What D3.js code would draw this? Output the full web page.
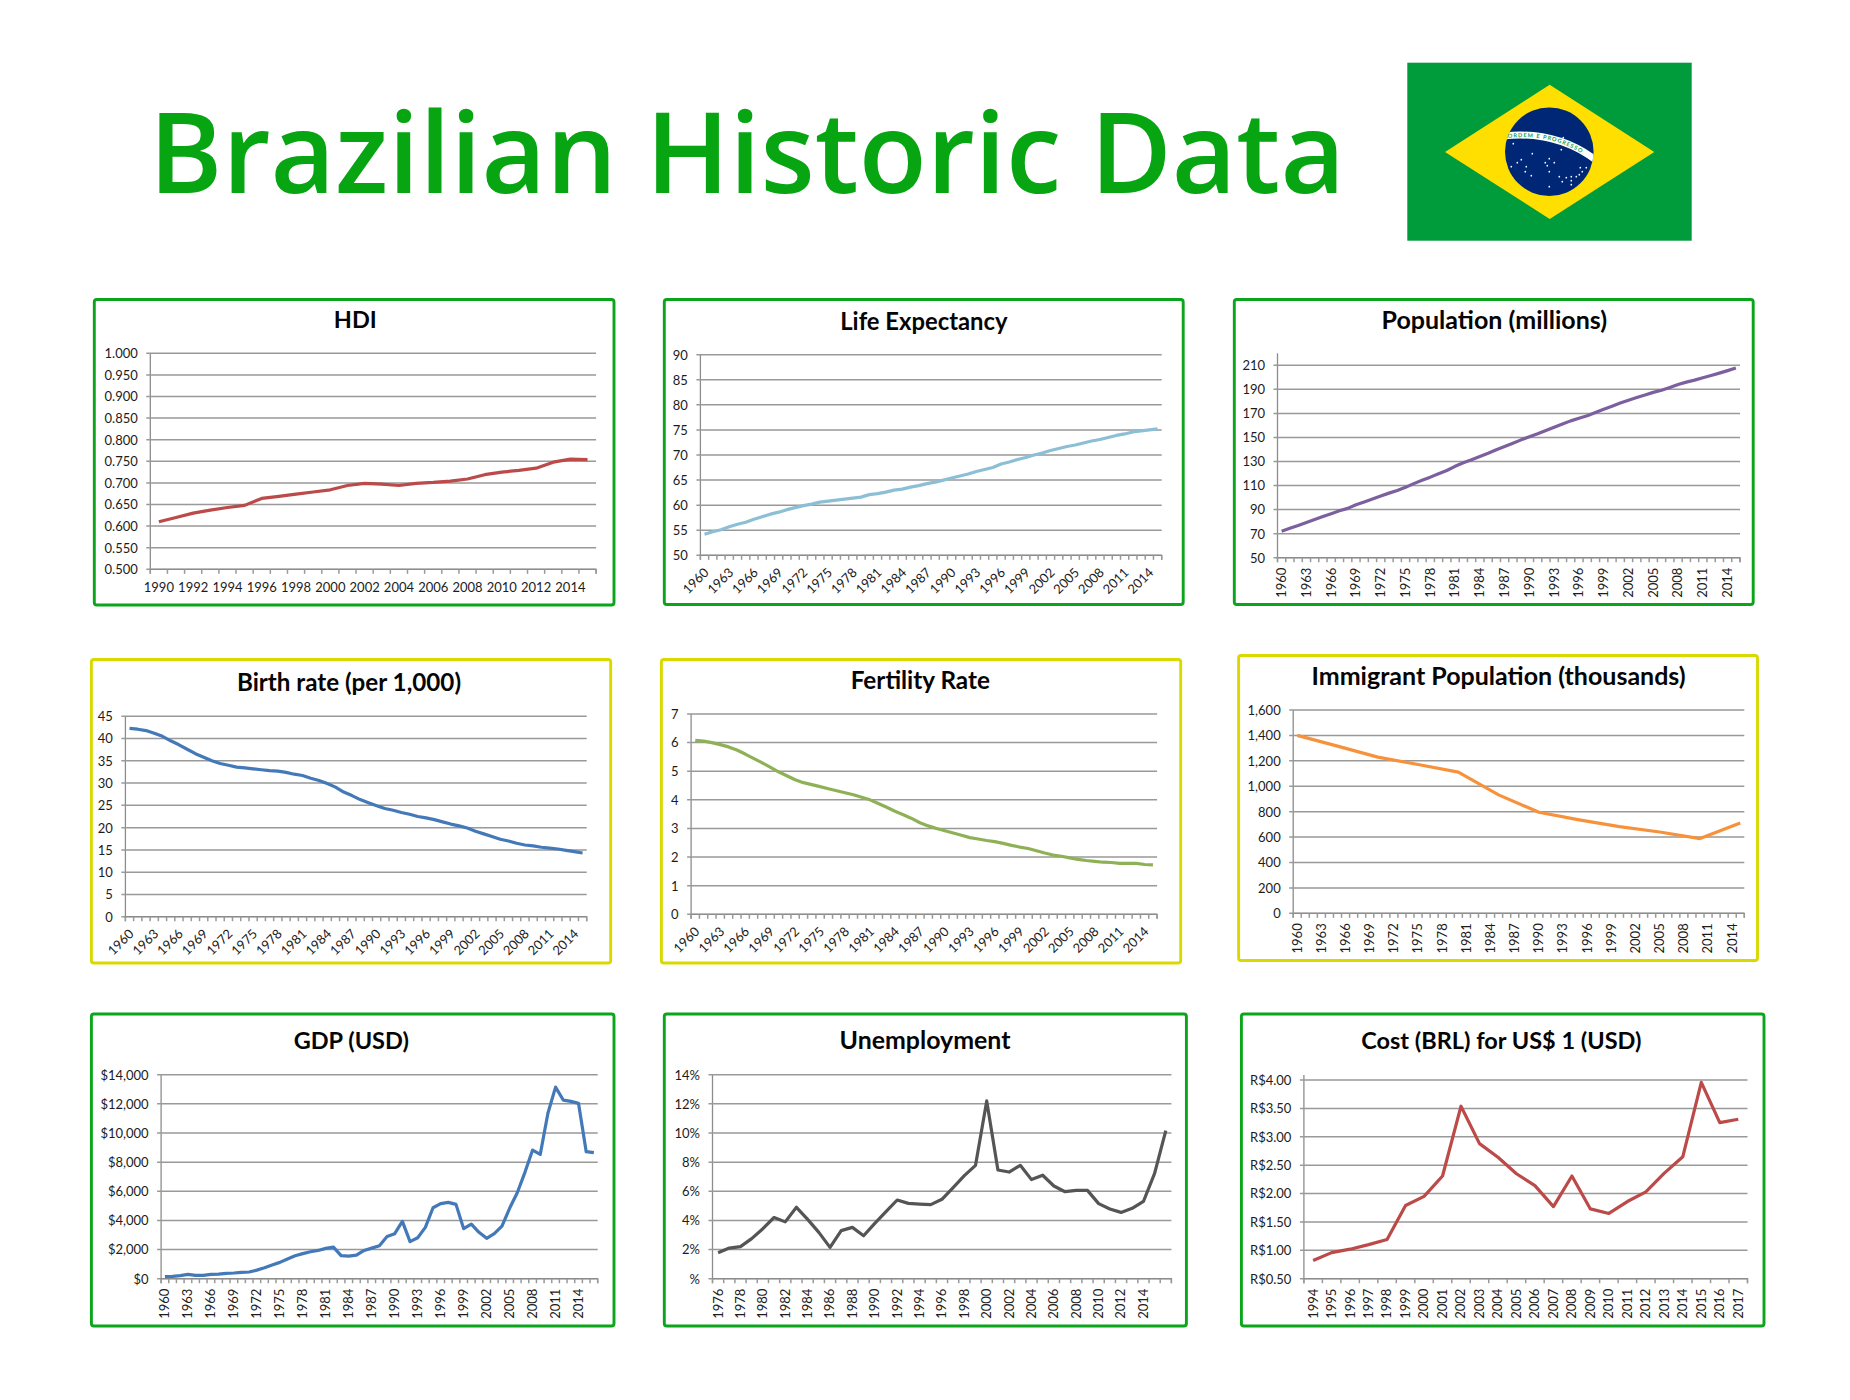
<!DOCTYPE html>
<html>
<head>
<meta charset="utf-8">
<title>Brazilian Historic Data</title>
<script src="https://cdnjs.cloudflare.com/ajax/libs/d3/7.8.5/d3.min.js"></script>
<style>
body { margin: 0; background: #fff; }
text { font-family: Lato, "Open Sans", sans-serif; }
.domain { stroke: #8c8c8c; stroke-width: 1.3; }
.tick line { stroke: #999; stroke-width: 1.5; }
.tick text { font-size: 13px; fill: #1c1c1c; }
.chart-title { font-weight: 700; fill: #050505; text-anchor: middle; }
</style>
</head>
<body>
<svg id="poster" width="1850" height="1400"></svg>
<script>
// ---- data ----
var hdiYears = d3.range(1990, 2016);
var hdiValues = [0.610, 0.620, 0.630, 0.637, 0.643, 0.648, 0.664, 0.669, 0.674, 0.679, 0.684, 0.694, 0.699,
    0.697, 0.694, 0.699, 0.701, 0.704, 0.709, 0.719, 0.725, 0.729, 0.734, 0.748, 0.755, 0.754];
var hdiTicks = [0.5, 0.55, 0.6, 0.65, 0.7, 0.75, 0.8, 0.85, 0.9, 0.95, 1];

var years60to15 = d3.range(1960, 2016);
var lifeValues = [54.2, 54.7, 55.1, 55.7, 56.2, 56.6, 57.2, 57.7, 58.2, 58.6, 59.1, 59.5, 59.9, 60.2, 60.6, 60.8,
    61.0, 61.2, 61.4, 61.6, 62.1, 62.3, 62.6, 63.0, 63.2, 63.6, 63.9, 64.3, 64.6, 65.0, 65.4, 65.8, 66.2, 66.7,
    67.1, 67.5, 68.2, 68.6, 69.1, 69.5, 70.0, 70.4, 70.9, 71.3, 71.7, 72.0, 72.4, 72.8, 73.1, 73.5, 73.9, 74.2,
    74.6, 74.8, 75.0, 75.2];
var lifeTicks = [50, 55, 60, 65, 70, 75, 80, 85, 90];

var populationValues = [72, 74.5, 76.8, 79.3, 81.7, 84.2, 86.6, 89, 91, 94, 96.4, 98.8, 101.3, 103.7, 105.9, 108.5,
    111.6, 114.4, 117, 119.8, 122.5, 126, 129, 131.5, 134.2, 136.8, 139.8, 142.5, 145.2, 148, 150.6, 153, 155.7,
    158.5, 161.2, 163.8, 166, 168, 170.8, 173.5, 176, 178.6, 181, 183.2, 185.3, 187.5, 189.3, 191.5, 194, 196,
    197.7, 199.6, 201.5, 203.5, 205.6, 207.8];
var populationTicks = [50, 70, 90, 110, 130, 150, 170, 190, 210];

var birthValues = [42.3, 42.1, 41.8, 41.2, 40.5, 39.5, 38.6, 37.6, 36.6, 35.8, 35, 34.4, 34, 33.6, 33.4, 33.2, 33,
    32.8, 32.7, 32.4, 32, 31.7, 31.1, 30.6, 29.9, 29.1, 28, 27.2, 26.3, 25.6, 24.9, 24.3, 23.9, 23.4, 23, 22.5,
    22.2, 21.8, 21.3, 20.8, 20.4, 19.9, 19.2, 18.6, 18, 17.4, 17, 16.5, 16.1, 15.9, 15.6, 15.4, 15.2, 14.9, 14.6, 14.3];
var birthTicks = [0, 5, 10, 15, 20, 25, 30, 35, 40, 45];

var fertilityValues = [6.08, 6.05, 6.0, 5.93, 5.85, 5.74, 5.6, 5.45, 5.3, 5.14, 4.98, 4.84, 4.7, 4.6, 4.53, 4.46,
    4.39, 4.32, 4.25, 4.18, 4.09, 4.0, 3.87, 3.74, 3.6, 3.48, 3.35, 3.2, 3.09, 3.0, 2.92, 2.84, 2.76, 2.68, 2.63,
    2.58, 2.54, 2.48, 2.41, 2.35, 2.3, 2.22, 2.14, 2.07, 2.03, 1.97, 1.92, 1.88, 1.85, 1.82, 1.81, 1.78, 1.78,
    1.78, 1.74, 1.73];
var fertilityTicks = [0, 1, 2, 3, 4, 5, 6, 7];

// the immigrant series only has a value every five years
var immigrantYears = [1960, 1965, 1970, 1975, 1980, 1985, 1990, 1995, 2000, 2005, 2010, 2015];
var immigrantValues = [1400, 1316, 1229, 1171, 1111, 932, 795, 735, 682, 640, 588, 711];
var immigrantTicks = [0, 200, 400, 600, 800, 1000, 1200, 1400, 1600];

var years60to16 = d3.range(1960, 2017);
var gdpValues = [140, 160, 206, 300, 230, 230, 300, 320, 365, 390, 430, 460, 590, 750, 940, 1120, 1350, 1580, 1720,
    1850, 1940, 2080, 2170, 1580, 1555, 1620, 1940, 2100, 2265, 2900, 3090, 3935, 2540, 2810, 3520, 4870, 5150,
    5240, 5100, 3430, 3750, 3180, 2770, 3090, 3610, 4830, 5900, 7300, 8830, 8530, 11350, 13150, 12260, 12170,
    12030, 8720, 8650];
var gdpTicks = [0, 2000, 4000, 6000, 8000, 10000, 12000, 14000];

var unemploymentYears = d3.range(1976, 2017);
var unemploymentValues = [1.78, 2.1, 2.2, 2.75, 3.43, 4.2, 3.9, 4.9, 4.07, 3.18, 2.15, 3.3, 3.52, 2.95, 3.8, 4.6,
    5.4, 5.17, 5.12, 5.08, 5.45, 6.25, 7.07, 7.78, 12.2, 7.46, 7.32, 7.78, 6.8, 7.1, 6.36, 5.97, 6.06, 6.06, 5.15,
    4.78, 4.55, 4.83, 5.3, 7.23, 10.16];
var unemploymentTicks = [0, 2, 4, 6, 8, 10, 12, 14];
var unemploymentLabels = d3.range(1976, 2016, 2); // 2016 has no label in the original

var brlYears = d3.range(1994, 2018);
var brlValues = [0.82, 0.96, 1.02, 1.1, 1.19, 1.79, 1.95, 2.31, 3.54, 2.88, 2.64, 2.35, 2.14, 1.77, 2.31, 1.73,
    1.65, 1.86, 2.03, 2.36, 2.65, 3.96, 3.25, 3.31];
var brlTicks = [0.5, 1, 1.5, 2, 2.5, 3, 3.5, 4];

var GREEN = '#0aa51a', YELLOW = '#d9d900';

var svg = d3.select('#poster');

// ---- one entry per chart: frame box, plot box, title position ----
var charts = [
    {title: 'HDI', frame: [94.3, 299.5, 614, 605], plot: [150.3, 353.3, 596.1, 569.3], titleX: 355.3, titleY: 328, titleSize: 23.5,
     border: GREEN, color: '#bb4a48', cats: hdiYears, xs: hdiYears, ys: hdiValues, domain: [0.5, 1], ticks: hdiTicks,
     yFormat: d3.format('.3f'), every: 2, rotate: 0},
    {title: 'Life Expectancy', frame: [664.3, 299.5, 1183.2, 604.5], plot: [700.4, 354.7, 1161.7, 555.3], titleX: 923.9, titleY: 329.8, titleSize: 23.8,
     border: GREEN, color: '#8cbfd6', cats: years60to15, xs: years60to15, ys: lifeValues, domain: [50, 90], ticks: lifeTicks,
     yFormat: d3.format('d'), every: 3, rotate: -45},
    {title: 'Population (millions)', frame: [1234.3, 299.5, 1753.2, 604.5], plot: [1277.5, 353.3, 1740, 557.7], titleX: 1494.3, titleY: 328.5, titleSize: 25,
     border: GREEN, color: '#7c5f9f', cats: years60to15, xs: years60to15, ys: populationValues, domain: [50, 220], ticks: populationTicks,
     yFormat: d3.format('d'), every: 3, rotate: -90},
    {title: 'Birth rate (per 1,000)', frame: [91.4, 659.5, 610.7, 963], plot: [125.4, 716.3, 586.7, 916.7], titleX: 349, titleY: 690.5, titleSize: 24.2,
     border: YELLOW, color: '#4379b8', cats: years60to15, xs: years60to15, ys: birthValues, domain: [0, 45], ticks: birthTicks,
     yFormat: d3.format('d'), every: 3, rotate: -45},
    {title: 'Fertility Rate', frame: [661.4, 659.5, 1180.7, 963], plot: [691.1, 714, 1157.1, 914.3], titleX: 920.3, titleY: 689.1, titleSize: 24.3,
     border: YELLOW, color: '#8fb155', cats: years60to15, xs: years60to15, ys: fertilityValues, domain: [0, 7], ticks: fertilityTicks,
     yFormat: d3.format('d'), every: 3, rotate: -45},
    {title: 'Immigrant Population (thousands)', frame: [1238.6, 655.5, 1757.5, 960.5], plot: [1293.2, 710, 1744.3, 913.3], titleX: 1498.6, titleY: 684.8, titleSize: 25,
     border: YELLOW, color: '#f7923c', cats: years60to15, xs: immigrantYears, ys: immigrantValues, domain: [0, 1600], ticks: immigrantTicks,
     yFormat: d3.format(','), every: 3, rotate: -90},
    {title: 'GDP (USD)', frame: [91.4, 1014, 614, 1326], plot: [161.1, 1074.7, 597.7, 1278.7], titleX: 351.3, titleY: 1049, titleSize: 23.5,
     border: GREEN, color: '#4379b8', cats: years60to16, xs: years60to16, ys: gdpValues, domain: [0, 14000], ticks: gdpTicks,
     yFormat: d3.format('$,'), every: 3, rotate: -90},
    {title: 'Unemployment', frame: [664.3, 1014, 1186.4, 1326], plot: [712.5, 1074.7, 1171.4, 1278.7], titleX: 925, titleY: 1049, titleSize: 24.9,
     border: GREEN, color: '#555555', cats: unemploymentYears, xs: unemploymentYears, ys: unemploymentValues, domain: [0, 14], ticks: unemploymentTicks,
     yFormat: function(d) { return d === 0 ? '%' : d + '%'; }, labels: unemploymentLabels, rotate: -90},
    {title: 'Cost (BRL) for US$ 1 (USD)', frame: [1241.4, 1014, 1764, 1326], plot: [1303.9, 1075, 1747.5, 1278.7], titleX: 1501.3, titleY: 1049, titleSize: 23.5,
     border: GREEN, color: '#bb4a48', cats: brlYears, xs: brlYears, ys: brlValues, domain: [0.5, 4.09], ticks: brlTicks,
     yFormat: function(d) { return 'R$' + d.toFixed(2); }, every: 1, rotate: -90}
];

function drawChart(c) {
    var g = svg.append('g').attr('class', 'chart');
    var x0 = c.plot[0], y0 = c.plot[1], x1 = c.plot[2], y1 = c.plot[3];

    g.append('rect')
        .attr('x', c.frame[0]).attr('y', c.frame[1])
        .attr('width', c.frame[2] - c.frame[0]).attr('height', c.frame[3] - c.frame[1])
        .attr('rx', 2.5)
        .style('fill', '#fff').style('stroke', c.border).style('stroke-width', 2.9);

    g.append('text').attr('class', 'chart-title')
        .attr('x', c.titleX).attr('y', c.titleY)
        .style('font-size', c.titleSize + 'px')
        .text(c.title);

    var xBand = d3.scaleBand().domain(c.cats).range([x0, x1]);
    var xEdge = d3.scaleLinear().domain([0, c.cats.length]).range([x0, x1]);
    var yScale = d3.scaleLinear().domain(c.domain).range([y1, y0]);

    // gridlines come from the left axis, they also stick out a little on the left
    var yAxis = d3.axisLeft(yScale).tickValues(c.ticks).tickFormat(c.yFormat)
        .tickSize(0).tickPadding(12.5).offset(0);
    var yG = g.append('g').attr('transform', 'translate(' + x0 + ',0)').call(yAxis);
    yG.selectAll('.tick line').attr('x1', -4).attr('x2', x1 - x0);
    yG.selectAll('.tick text').attr('y', 0.7);

    // tick marks sit between the categories
    var edgeAxis = d3.axisBottom(xEdge).tickValues(d3.range(c.cats.length + 1)).tickFormat('')
        .tickSize(4.5).offset(0);
    g.append('g').attr('transform', 'translate(0,' + y1 + ')').call(edgeAxis);

    var labelled = c.labels || c.cats.filter(function(d, i) { return i % c.every === 0; });
    var labelAxis = d3.axisBottom(xBand).tickValues(labelled).tickSize(0).offset(0);
    var labelG = g.append('g').attr('transform', 'translate(0,' + y1 + ')').call(labelAxis);
    labelG.select('.domain').remove();
    labelG.selectAll('.tick line').remove();

    var labels = labelG.selectAll('.tick text').attr('dy', null);
    if (c.rotate === 0) {
        labels.attr('y', 23);
    } else if (c.rotate === -45) {
        labels.attr('y', 0).style('text-anchor', 'end')
            .attr('transform', 'translate(5,18) rotate(-45)');
    } else {
        labels.attr('y', 0).style('text-anchor', 'end').attr('dy', '0.34em')
            .attr('transform', 'translate(0,10) rotate(-90)');
    }

    var line = d3.line()
        .x(function(d, i) { return xBand(c.xs[i]) + xBand.bandwidth() / 2; })
        .y(function(d) { return yScale(d); });

    g.append('path').datum(c.ys)
        .attr('d', line)
        .style('fill', 'none')
        .style('stroke', c.color)
        .style('stroke-width', 3.2)
        .style('stroke-linejoin', 'round');
}

charts.forEach(drawChart);

// ---- poster title and flag ----
svg.append('text')
    .attr('x', 149).attr('y', 193)
    .attr('textLength', 1196).attr('lengthAdjust', 'spacingAndGlyphs')
    .style('font-family', '"Open Sans", sans-serif')
    .style('font-weight', 600)
    .style('font-size', '112px')
    .style('fill', '#07a512')
    .text('Brazilian Historic Data');

var starPoints = [[-36, -8], [-17, 2], [-32, 11], [-28, 8], [-38, 15], [-23, 15], [-24, 20], [-18, 24], [0, 7], [-4, 11],
    [5, 11], [-2, 14], [0, 20], [0, 35], [10, 25], [17, 26], [13, 30], [22, 25], [27, 25], [22, 29], [22, 33], [30, 23],
    [31, 16], [37, 16], [33, 20], [14, -14], [12, -2]];

var flag = svg.append('g').attr('class', 'flag');
flag.append('rect').attr('x', 1407.3).attr('y', 62.7).attr('width', 284.4).attr('height', 178).style('fill', '#009b3a');
flag.append('path').attr('d', 'M1445,152 L1549.7,84.7 L1654.3,152 L1549.7,219 Z').style('fill', '#fedf00');
flag.append('clipPath').attr('id', 'globe').append('circle').attr('cx', 1549.3).attr('cy', 151.7).attr('r', 44.3);
flag.append('circle').attr('cx', 1549.3).attr('cy', 151.7).attr('r', 44.3).style('fill', '#002776');
flag.append('path').attr('id', 'motto-band')
    .attr('d', 'M1503,136 Q1557,130 1597,161')
    .attr('clip-path', 'url(#globe)')
    .style('fill', 'none').style('stroke', '#fff').style('stroke-width', 7);
flag.append('path').attr('id', 'motto-path')
    .attr('d', 'M1508,138 Q1557,132.5 1594,162').style('fill', 'none');
flag.append('text')
    .style('font-size', '5.6px').style('font-weight', 700).style('fill', '#12a04a').style('letter-spacing', '1px')
    .append('textPath').attr('href', '#motto-path').text('ORDEM E PROGRESSO');
flag.selectAll('.star').data(starPoints).enter().append('circle')
    .attr('class', 'star')
    .attr('cx', function(d) { return 1549.3 + d[0]; })
    .attr('cy', function(d) { return 151.7 + d[1]; })
    .attr('r', 0.85)
    .style('fill', '#fff');
</script>
</body>
</html>
